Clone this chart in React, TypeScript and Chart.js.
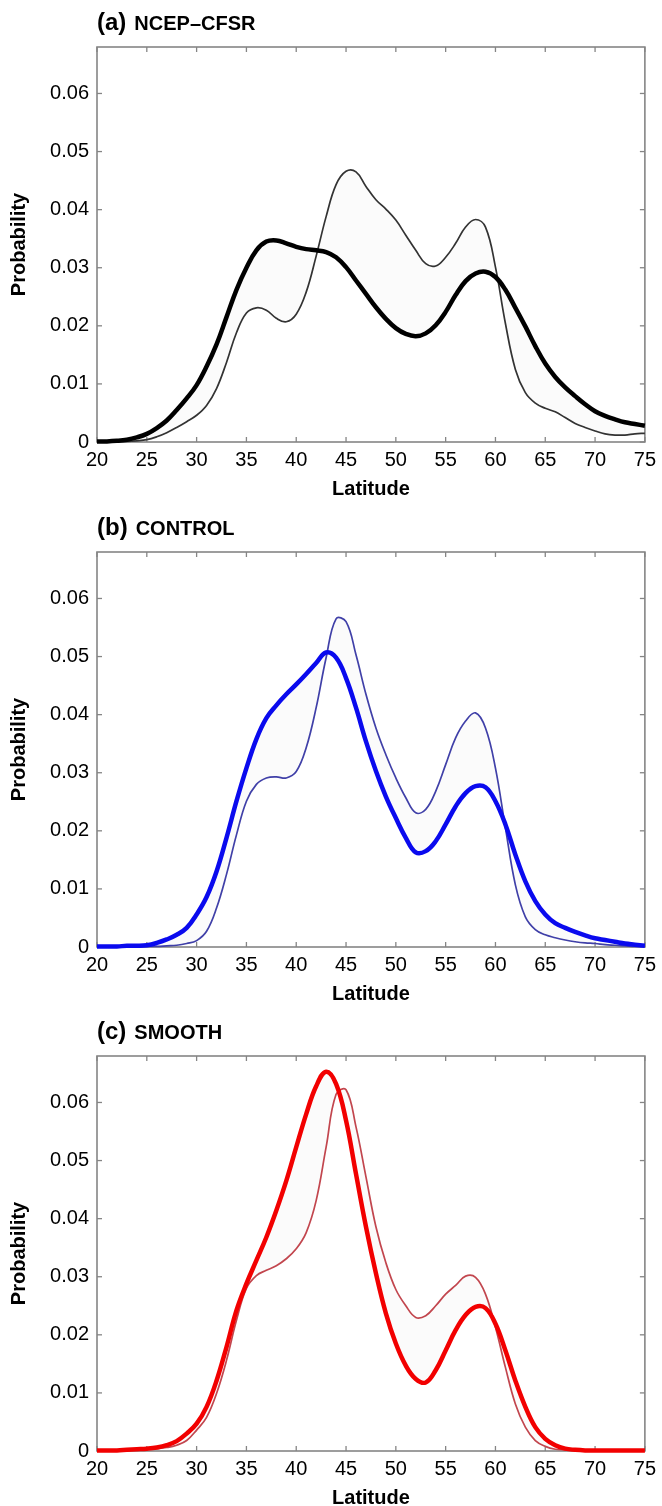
import React, { useEffect, useRef } from 'react';
import { Chart, registerables } from 'chart.js';

Chart.register(...registerables);

const latitude = [
  20, 21, 22, 23, 24, 25, 26, 27, 28, 29, 30, 31, 32, 33, 34, 35, 36, 37, 38, 39,
  40, 41, 42, 43, 44, 45, 46, 47, 48, 49, 50, 51, 52, 53, 54, 55, 56, 57, 58, 59,
  60, 61, 62, 63, 64, 65, 66, 67, 68, 69, 70, 71, 72, 73, 74, 75,
];

const xTickLabels = ['20', '25', '30', '35', '40', '45', '50', '55', '60', '65', '70', '75'];
const yTickLabels = ['0', '0.01', '0.02', '0.03', '0.04', '0.05', '0.06'];

// (a) NCEP–CFSR
const cfsrThick = [
  0.0001, 0.0001, 0.0002, 0.0004, 0.0008, 0.0014, 0.0024, 0.0037, 0.0055, 0.0075,
  0.0098, 0.0130, 0.0168, 0.0215, 0.0262, 0.0300, 0.0330, 0.0345, 0.0347, 0.0342,
  0.0336, 0.0332, 0.0330, 0.0327, 0.0318, 0.0301, 0.0278, 0.0255, 0.0232, 0.0212,
  0.0196, 0.0186, 0.0182, 0.0187, 0.0201, 0.0224, 0.0253, 0.0277, 0.0290, 0.0293,
  0.0284, 0.0262, 0.0231, 0.0199, 0.0165, 0.0135, 0.0112, 0.0094, 0.0079, 0.0065,
  0.0053, 0.0045, 0.0039, 0.0034, 0.0031, 0.0028,
];
const cfsrThin = [
  0.0000, 0.0000, 0.0001, 0.0001, 0.0002, 0.0004, 0.0009, 0.0016, 0.0025, 0.0035,
  0.0046, 0.0063, 0.0092, 0.0137, 0.0188, 0.0222, 0.0231, 0.0227, 0.0213, 0.0207,
  0.0220, 0.0258, 0.0320, 0.0388, 0.0443, 0.0466, 0.0465, 0.0440, 0.0417, 0.0401,
  0.0382, 0.0356, 0.0330, 0.0307, 0.0303, 0.0318, 0.0342, 0.0370, 0.0383, 0.0370,
  0.0301, 0.0204, 0.0125, 0.0085, 0.0067, 0.0058, 0.0052, 0.0042, 0.0032, 0.0025,
  0.0019, 0.0014, 0.0012, 0.0012, 0.0014, 0.0015,
];

// (b) CONTROL
const controlThick = [
  0.0001, 0.0001, 0.0001, 0.0002, 0.0002, 0.0003, 0.0007, 0.0013, 0.0021, 0.0033,
  0.0056, 0.0086, 0.0130, 0.0188, 0.0251, 0.0308, 0.0358, 0.0394, 0.0416, 0.0435,
  0.0452, 0.0470, 0.0489, 0.0507, 0.0498, 0.0463, 0.0412, 0.0354, 0.0303, 0.0259,
  0.0222, 0.0188, 0.0163, 0.0165, 0.0182, 0.0211, 0.0242, 0.0265, 0.0277, 0.0275,
  0.0251, 0.0211, 0.0159, 0.0113, 0.0079, 0.0056, 0.0041, 0.0033, 0.0026, 0.0020,
  0.0015, 0.0012, 0.0009, 0.0006, 0.0004, 0.0002,
];
const controlThin = [
  0.0000, 0.0000, 0.0000, 0.0000, 0.0000, 0.0001, 0.0001, 0.0002, 0.0003, 0.0006,
  0.0011, 0.0027, 0.0067, 0.0125, 0.0193, 0.0251, 0.0280, 0.0291, 0.0293, 0.0291,
  0.0302, 0.0343, 0.0412, 0.0498, 0.0565, 0.0560, 0.0503, 0.0435, 0.0377, 0.0331,
  0.0291, 0.0257, 0.0231, 0.0237, 0.0268, 0.0314, 0.0360, 0.0389, 0.0403, 0.0377,
  0.0308, 0.0205, 0.0107, 0.0052, 0.0030, 0.0021, 0.0016, 0.0012, 0.0009, 0.0007,
  0.0006, 0.0004, 0.0003, 0.0002, 0.0001, 0.0001,
];

// (c) SMOOTH
const smoothThick = [
  0.0001, 0.0001, 0.0001, 0.0002, 0.0003, 0.0004, 0.0006, 0.0010, 0.0017, 0.0030,
  0.0047, 0.0076, 0.0121, 0.0179, 0.0242, 0.0288, 0.0328, 0.0368, 0.0414, 0.0465,
  0.0523, 0.0580, 0.0628, 0.0653, 0.0632, 0.0569, 0.0477, 0.0386, 0.0306, 0.0237,
  0.0185, 0.0147, 0.0124, 0.0118, 0.0139, 0.0173, 0.0208, 0.0234, 0.0248, 0.0246,
  0.0219, 0.0173, 0.0121, 0.0076, 0.0041, 0.0021, 0.0010, 0.0004, 0.0002, 0.0001,
  0.0001, 0.0001, 0.0001, 0.0001, 0.0001, 0.0001,
];
const smoothThin = [
  0.0000, 0.0000, 0.0001, 0.0001, 0.0002, 0.0003, 0.0004, 0.0006, 0.0010, 0.0018,
  0.0036, 0.0058, 0.0099, 0.0156, 0.0225, 0.0280, 0.0302, 0.0311, 0.0319, 0.0331,
  0.0348, 0.0376, 0.0431, 0.0523, 0.0614, 0.0622, 0.0558, 0.0472, 0.0386, 0.0324,
  0.0278, 0.0250, 0.0230, 0.0233, 0.0250, 0.0270, 0.0285, 0.0301, 0.0299, 0.0270,
  0.0213, 0.0144, 0.0081, 0.0041, 0.0018, 0.0008, 0.0003, 0.0002, 0.0001, 0.0001,
  0.0001, 0.0001, 0.0001, 0.0001, 0.0001, 0.0001,
];

const FONT = "'Liberation Sans', Arial, Helvetica, sans-serif";

const framePlugin = {
  id: 'matlabFrame',
  beforeDatasetsDraw(chart: any) {
    const { ctx, chartArea, scales } = chart;
    const { left, right, top, bottom } = chartArea;
    const x = scales.x;
    const y = scales.y;
    ctx.save();
    ctx.strokeStyle = '#858585';
    ctx.lineWidth = 1.6;
    ctx.strokeRect(left, top, right - left, bottom - top);
    ctx.lineWidth = 1.3;
    const tl = 5;
    const seg = (x1: number, y1: number, x2: number, y2: number) => {
      ctx.beginPath();
      ctx.moveTo(x1, y1);
      ctx.lineTo(x2, y2);
      ctx.stroke();
    };
    x.ticks.forEach((t: any) => {
      const px = x.getPixelForValue(t.value);
      seg(px, bottom, px, bottom - tl);
      seg(px, top, px, top + tl);
    });
    y.ticks.forEach((t: any) => {
      const py = y.getPixelForValue(t.value);
      seg(left, py, left + tl, py);
      seg(right, py, right - tl, py);
    });
    ctx.restore();
  },
  afterDraw(chart: any) {
    const opts = chart.options.plugins.panelTitle;
    if (!opts) return;
    const { ctx, chartArea } = chart;
    ctx.save();
    ctx.fillStyle = '#000';
    ctx.textBaseline = 'alphabetic';
    ctx.textAlign = 'left';
    const baseY = chartArea.top - 17;
    ctx.font = `bold 24px ${FONT}`;
    ctx.fillText(opts.label, chartArea.left, baseY);
    const w = ctx.measureText(opts.label).width;
    ctx.font = `bold 20px ${FONT}`;
    ctx.fillText(opts.name, chartArea.left + w + 8, baseY);
    ctx.restore();
  },
};

type PanelProps = {
  label: string;
  name: string;
  thick: number[];
  thin: number[];
  thickColor: string;
  thinColor: string;
  top: number;
};

function Panel({ label, name, thick, thin, thickColor, thinColor, top }: PanelProps) {
  const ref = useRef<HTMLCanvasElement>(null);
  useEffect(() => {
    if (!ref.current) return;
    const toPts = (arr: number[]) => latitude.map((lat, i) => ({ x: lat, y: arr[i] }));
    const chart = new Chart(ref.current, {
      type: 'line',
      data: {
        datasets: [
          {
            data: toPts(thick),
            borderColor: thickColor,
            borderWidth: 4.5,
            pointRadius: 0,
            tension: 0.4,
            fill: false,
            clip: 6,
          } as any,
          {
            data: toPts(thin),
            borderColor: thinColor,
            borderWidth: 1.7,
            pointRadius: 0,
            tension: 0.4,
            fill: { target: 0 },
            backgroundColor: 'rgba(150,150,150,0.035)',
            clip: 6,
          } as any,
        ],
      },
      options: {
        responsive: false,
        animation: false,
        devicePixelRatio: 1,
        layout: { padding: { top: 47, right: 13, left: 0, bottom: 0 } },
        plugins: {
          legend: { display: false },
          tooltip: { enabled: false },
          title: { display: false },
          panelTitle: { label, name },
        } as any,
        scales: {
          x: {
            type: 'linear',
            min: 20,
            max: 75,
            grid: { display: false, drawTicks: false },
            border: { display: false },
            ticks: {
              stepSize: 5,
              autoSkip: false,
              maxRotation: 0,
              includeBounds: false,
              color: '#000',
              padding: 6,
              font: { size: 20, family: FONT },
              callback: (v: any) => {
                const s = String(Math.round(Number(v)));
                return xTickLabels.includes(s) ? s : '';
              },
            },
            title: {
              display: true,
              text: 'Latitude',
              color: '#000',
              font: { size: 20, weight: 'bold', family: FONT },
              padding: { top: 0, bottom: 3 },
            },
            afterFit: (s: any) => {
              s.height = 62;
            },
          },
          y: {
            type: 'linear',
            min: 0,
            max: 0.068,
            grid: { display: false, drawTicks: false },
            border: { display: false },
            ticks: {
              stepSize: 0.01,
              includeBounds: false,
              autoSkip: false,
              color: '#000',
              padding: 8,
              font: { size: 20, family: FONT },
              callback: (v: any) => {
                const n = Number(v);
                const s = Math.abs(n) < 1e-9 ? '0' : n.toFixed(2);
                return yTickLabels.includes(s) ? s : '';
              },
            },
            title: {
              display: true,
              text: 'Probability',
              color: '#000',
              font: { size: 20, weight: 'bold', family: FONT },
              padding: { top: 7, bottom: 0 },
            },
            afterFit: (s: any) => {
              s.width = 97;
            },
          },
        } as any,
      },
      plugins: [framePlugin as any],
    });
    return () => chart.destroy();
  }, []);
  return (
    <canvas
      ref={ref}
      width={662}
      height={504}
      style={{ position: 'absolute', left: 0, top, width: 662, height: 504, display: 'block' }}
    />
  );
}

export default function App() {
  return (
    <div
      style={{
        position: 'absolute',
        left: 0,
        top: 0,
        width: 662,
        height: 1506,
        overflow: 'hidden',
        background: '#fff',
      }}
    >
      <Panel label="(a)" name="NCEP–CFSR" thick={cfsrThick} thin={cfsrThin} thickColor="#000000" thinColor="#333333" top={0} />
      <Panel label="(b)" name="CONTROL" thick={controlThick} thin={controlThin} thickColor="#0a0aee" thinColor="#4040a8" top={505} />
      <Panel label="(c)" name="SMOOTH" thick={smoothThick} thin={smoothThin} thickColor="#f20000" thinColor="#c2464e" top={1009} />
    </div>
  );
}
